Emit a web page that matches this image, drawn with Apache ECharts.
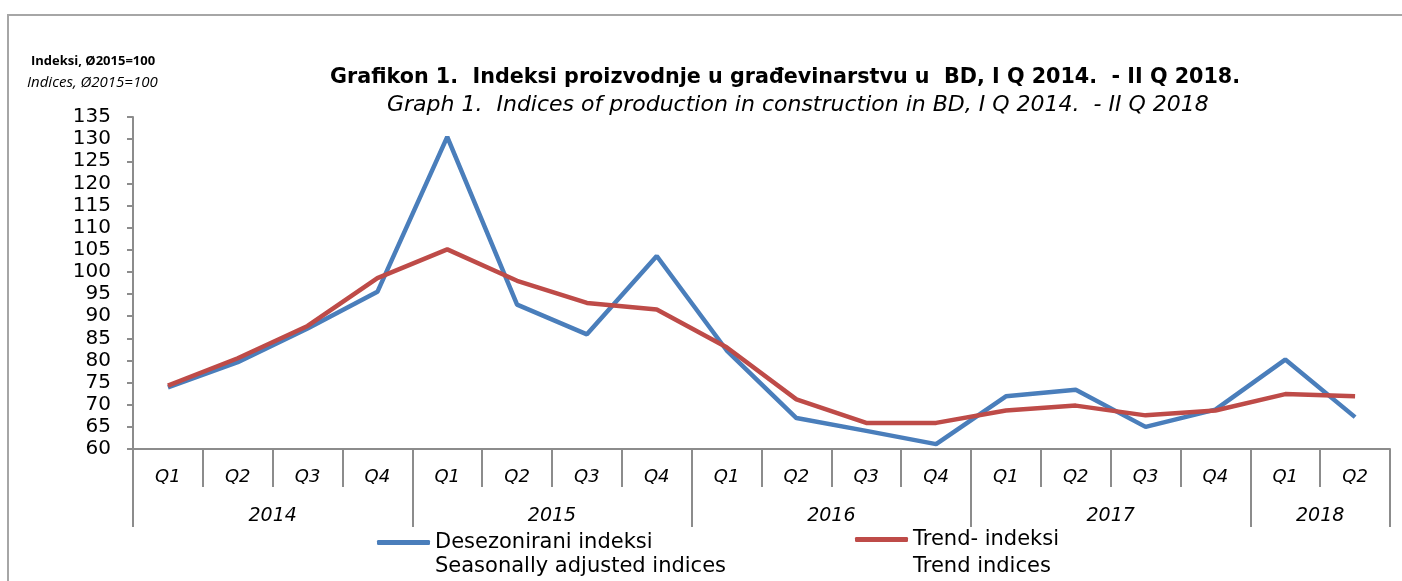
<!DOCTYPE html>
<html>
<head>
<meta charset="utf-8">
<script src="https://cdn.jsdelivr.net/npm/echarts@6/dist/echarts.min.js"></script>
<style>
html,body{margin:0;padding:0;background:#fff;}
#chart{width:1402px;height:581px;}
</style>
</head>
<body>
<div id="chart"></div>
<script>
// ---- data ----
var quarters = ['Q1','Q2','Q3','Q4','Q1','Q2','Q3','Q4','Q1','Q2','Q3','Q4','Q1','Q2','Q3','Q4','Q1','Q2'];
var years = ['2014','2015','2016','2017','2018'];
var yearSpans = [4,4,4,4,2];
var seasonal = [73.9,79.6,87.2,95.5,130.5,92.6,85.9,103.6,82.3,67.0,64.1,61.1,71.9,73.4,65.0,68.9,80.2,67.2];
var trend = [74.3,80.5,87.8,98.6,105.1,98.0,93.0,91.5,83.0,71.2,65.9,65.9,68.7,69.8,67.6,68.7,72.4,71.9];
var yTicks = {min:60, max:135, step:5};
var seriesNames = ['Desezonirani indeksi','Trend- indeksi'];
var seriesNamesEn = ['Seasonally adjusted indices','Trend indices'];
var titleText = 'Grafikon 1.  Indeksi proizvodnje u građevinarstvu u  BD, I Q 2014.  - II Q 2018.';
var subtitleText = 'Graph 1.  Indices of production in construction in BD, I Q 2014.  - II Q 2018';
var unitText = 'Indeksi, Ø2015=100';
var unitTextEn = 'Indices, Ø2015=100';

// derived year boundaries / centers
var yearBounds = [0], yearCenters = [];
(function(){var acc=0;for(var i=0;i<yearSpans.length;i++){yearCenters.push(acc+yearSpans[i]/2);acc+=yearSpans[i];yearBounds.push(acc);}})();

var FONT = 'DejaVu Sans';
var FONT2 = 'Open Sans';
var chart = echarts.init(document.getElementById('chart'));
chart.setOption({
  animation:false,
  backgroundColor:'#fff',
  graphic:[
    {type:'rect', shape:{x:8,y:15,width:1420,height:620}, style:{fill:'none',stroke:'#a6a6a6',lineWidth:2}, silent:true},
    {type:'text', left:435, top:556, style:{text:seriesNamesEn[0], font:'21px "'+FONT+'"', fill:'#000'}},
    {type:'text', left:913, top:556, style:{text:seriesNamesEn[1], font:'21px "'+FONT+'"', fill:'#000'}}
  ],
  title:[
    {text:titleText, left:325, top:62,
     textStyle:{fontFamily:FONT, fontSize:20.7, fontWeight:'bold', color:'#000'}},
    {text:subtitleText, left:382, top:89,
     textStyle:{fontFamily:FONT, fontSize:22, fontStyle:'italic', fontWeight:'normal', color:'#000'}},
    {text:unitText, left:26, top:50,
     textStyle:{fontFamily:FONT2, fontSize:13, fontWeight:'bold', color:'#000'}},
    {text:unitTextEn, left:22, top:70,
     textStyle:{fontFamily:FONT2, fontSize:15, fontStyle:'italic', fontWeight:'normal', color:'#000'}}
  ],
  legend:[
    {data:[seriesNames[0]], left:372, top:527, itemWidth:53, itemHeight:5, icon:'roundRect',
     textStyle:{fontFamily:FONT, fontSize:21, color:'#000'}},
    {data:[seriesNames[1]], left:850, top:524, itemWidth:53, itemHeight:5, icon:'roundRect',
     textStyle:{fontFamily:FONT, fontSize:21, color:'#000'}}
  ],
  grid:{left:133, right:12, top:117, bottom:132, containLabel:false},
  xAxis:[
    {type:'category', data:quarters, boundaryGap:true, position:'bottom',
     axisLine:{lineStyle:{color:'#8c8c8c', width:2}},
     axisTick:{show:true, interval:0, length:38, lineStyle:{color:'#8c8c8c', width:2}},
     axisLabel:{interval:0, margin:19, fontFamily:FONT, fontSize:18, fontStyle:'italic', color:'#000'}},
    {type:'value', min:0, max:quarters.length, position:'bottom',
     axisLine:{show:false},
     splitLine:{show:false},
     axisTick:{show:true, length:78, customValues:yearBounds, lineStyle:{color:'#8c8c8c', width:2}},
     axisLabel:{show:true, margin:58, customValues:yearCenters, fontFamily:FONT, fontSize:19, fontStyle:'italic', color:'#000',
       formatter:function(v){var i=yearCenters.indexOf(v);return i>=0?years[i]:'';}}}
  ],
  yAxis:{type:'value', min:yTicks.min, max:yTicks.max, interval:yTicks.step,
    axisLine:{show:true, lineStyle:{color:'#8c8c8c', width:2}},
    axisTick:{show:true, length:6, lineStyle:{color:'#8c8c8c', width:2}},
    splitLine:{show:false},
    axisLabel:{margin:22, fontFamily:FONT, fontSize:20, color:'#000'}},
  series:[
    {name:seriesNames[0], type:'line', data:seasonal, xAxisIndex:0, symbol:'none',
     lineStyle:{color:'#4a7ebb', width:4.5}, itemStyle:{color:'#4a7ebb'}},
    {name:seriesNames[1], type:'line', data:trend, xAxisIndex:0, symbol:'none',
     lineStyle:{color:'#be4b48', width:4.5}, itemStyle:{color:'#be4b48'}}
  ]
});
</script>
</body>
</html>
